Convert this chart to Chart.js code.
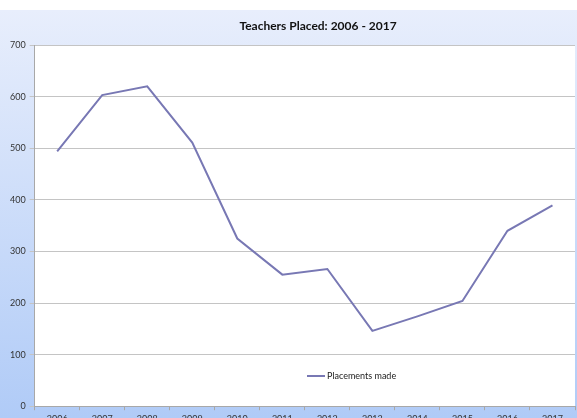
<!DOCTYPE html>
<html>
<head>
<meta charset="utf-8">
<script src="https://cdn.jsdelivr.net/npm/chart.js@4.4.0/dist/chart.umd.min.js"></script>
<style>
  html, body { margin: 0; padding: 0; overflow: hidden; background: #fff; }
  #wrap { width: 577px; height: 427px; }
</style>
</head>
<body>
<div id="wrap"><canvas id="chart" width="577" height="427"></canvas></div>
<script>
// Data
const years = ['2006', '2007', '2008', '2009', '2010', '2011', '2012', '2013', '2014', '2015', '2016', '2017'];
const placements = [494, 603, 620, 511, 325, 255, 266, 146, 174, 204, 340, 389];
const chartTitle = 'Teachers Placed: 2006 - 2017';
const seriesName = 'Placements made';

const lineColor = '#7878b4';
const fontFamily = 'Lato, "Open Sans", sans-serif';

// Gradient background, white plot area, title and inner legend
const decorPlugin = {
    id: 'decor',
    beforeDraw(chart) {
        const ctx = chart.ctx;
        const area = chart.chartArea;
        ctx.save();
        ctx.fillStyle = '#ffffff';
        ctx.fillRect(0, 0, chart.width, chart.height);
        const grad = ctx.createLinearGradient(0, 10, 0, 418);
        grad.addColorStop(0, '#e8eefc');
        grad.addColorStop(1, '#b0cbf7');
        ctx.fillStyle = grad;
        ctx.fillRect(0, 10, chart.width, chart.height - 10);
        ctx.fillStyle = '#ffffff';
        ctx.fillRect(area.left, area.top, area.right - area.left, area.bottom - area.top);
        ctx.restore();
    },
    afterDraw(chart) {
        const ctx = chart.ctx;
        ctx.save();
        ctx.fillStyle = '#111111';
        ctx.font = 'bold 12px ' + fontFamily;
        ctx.textAlign = 'center';
        ctx.textBaseline = 'middle';
        ctx.fillText(chartTitle, 318, 26);

        ctx.strokeStyle = lineColor;
        ctx.lineWidth = 2;
        ctx.beginPath();
        ctx.moveTo(307, 376);
        ctx.lineTo(325, 376);
        ctx.stroke();
        ctx.fillStyle = '#222222';
        ctx.font = '9px ' + fontFamily;
        ctx.textAlign = 'left';
        ctx.fillText(seriesName, 327, 376);
        ctx.restore();
    }
};

new Chart(document.getElementById('chart'), {
    type: 'line',
    data: {
        labels: years,
        datasets: [{
            label: seriesName,
            data: placements,
            borderColor: lineColor,
            borderWidth: 2,
            pointRadius: 0,
            tension: 0,
            fill: false
        }]
    },
    options: {
        responsive: false,
        animation: false,
        layout: {
            padding: { top: 45, right: 2, left: 6, bottom: 0 }
        },
        plugins: {
            legend: { display: false },
            title: { display: false },
            tooltip: { enabled: false }
        },
        scales: {
            x: {
                offset: true,
                grid: {
                    offset: true,
                    drawOnChartArea: false,
                    color: '#a8a8a8',
                    tickLength: 4
                },
                border: { color: '#a8a8a8' },
                ticks: {
                    color: '#333333',
                    font: { family: fontFamily, size: 9 },
                    maxRotation: 0,
                    padding: 3
                }
            },
            y: {
                min: 0,
                max: 700,
                grid: {
                    color: '#c4c4c4',
                    tickLength: 5
                },
                border: { color: '#a8a8a8' },
                ticks: {
                    stepSize: 100,
                    color: '#333333',
                    font: { family: fontFamily, size: 9 },
                    padding: 4
                }
            }
        }
    },
    plugins: [decorPlugin]
});
</script>
</body>
</html>
